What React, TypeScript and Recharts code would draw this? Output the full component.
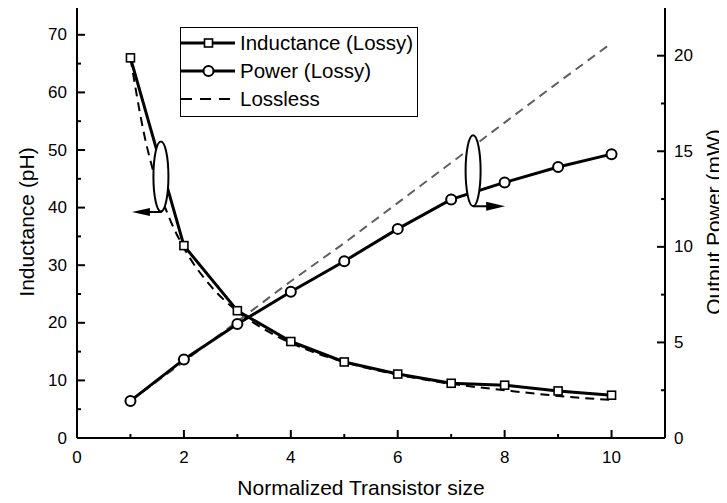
import { ComposedChart, Line, XAxis, YAxis, Legend, ReferenceDot } from 'recharts';

const FONT = '"Liberation Sans", Arial, Helvetica, sans-serif';

// values
const sizes = [1, 2, 3, 4, 5, 6, 7, 8, 9, 10];
const inductanceLossy = [66, 33.4, 22.1, 16.75, 13.2, 11.1, 9.5, 9.17, 8.17, 7.43];
const powerLossy = [1.94, 4.11, 5.96, 7.65, 9.25, 10.94, 12.48, 13.37, 14.18, 14.85];
const powerLossless = [1.94, 4.0, 6.1, 8.2, 10.2, 12.3, 14.4, 16.5, 18.6, 20.66];

const curveSizes = [1, 1.25, 1.5, 1.75, 2, 2.5, 3, 3.5, 4, 5, 6, 7, 8, 9, 10];
const inductanceLossless = [66, 53, 44, 37.7, 33, 26.4, 22, 18.9, 16.5, 13.2, 11, 9.4, 8.3, 7.3, 6.6];

const xTicks = [0, 1, 2, 3, 4, 5, 6, 7, 8, 9, 10];
const inductanceTicks = [0, 5, 10, 15, 20, 25, 30, 35, 40, 45, 50, 55, 60, 65, 70];
const powerTicks = [0, 2.5, 5, 7.5, 10, 12.5, 15, 17.5, 20];

const rows = curveSizes.map((x, i) => {
  const k = sizes.indexOf(x);
  return {
    x,
    indLossless: inductanceLossless[i],
    indLossy: k >= 0 ? inductanceLossy[k] : null,
    powLossy: k >= 0 ? powerLossy[k] : null,
    powLossless: k >= 0 ? powerLossless[k] : null,
  };
});

const tickText = { fontSize: 17, fontFamily: FONT, fill: '#000' };

function BottomTick({ x, y, payload }: any) {
  const major = payload.value % 2 === 0;
  return (
    <g>
      <line x1={x} x2={x} y1={y} y2={y - (major ? 8 : 4)} stroke="#000" strokeWidth={2} />
      {major ? (
        <text x={x} y={y + 25} textAnchor="middle" {...tickText}>
          {payload.value}
        </text>
      ) : null}
    </g>
  );
}

function LeftTick({ x, y, payload }: any) {
  const major = payload.value % 10 === 0;
  return (
    <g>
      <line x1={x} x2={x + (major ? 8 : 4)} y1={y} y2={y} stroke="#000" strokeWidth={2} />
      {major ? (
        <text x={x - 10} y={y} textAnchor="end" dominantBaseline="central" {...tickText}>
          {payload.value}
        </text>
      ) : null}
    </g>
  );
}

function RightTick({ x, y, payload }: any) {
  const major = payload.value % 5 === 0;
  return (
    <g>
      <line x1={x} x2={x - (major ? 8 : 4)} y1={y} y2={y} stroke="#000" strokeWidth={2} />
      {major ? (
        <text x={x + 9} y={y} textAnchor="start" dominantBaseline="central" {...tickText}>
          {payload.value}
        </text>
      ) : null}
    </g>
  );
}

const squareDot = (props: any) => {
  const { cx, cy, index, value } = props;
  if (value == null || cx == null || cy == null) return <g key={index} />;
  return <rect key={index} x={cx - 4} y={cy - 4} width={8} height={8} fill="#fff" stroke="#000" strokeWidth={1.6} />;
};

const circleDot = (props: any) => {
  const { cx, cy, index, value } = props;
  if (value == null || cx == null || cy == null) return <g key={index} />;
  return <circle key={index} cx={cx} cy={cy} r={5} fill="#fff" stroke="#000" strokeWidth={2} />;
};

const leftMarker = ({ cx, cy }: any) => (
  <g>
    <ellipse cx={cx} cy={cy} rx={7.5} ry={35} fill="#fff" stroke="#000" strokeWidth={2} />
    <line x1={cx + 1} y1={cy + 35.5} x2={cx - 13} y2={cy + 35.5} stroke="#000" strokeWidth={2} />
    <polygon points={`${cx - 29},${cy + 35.5} ${cx - 11},${cy + 31.5} ${cx - 11},${cy + 39.5}`} fill="#000" />
  </g>
);

const rightMarker = ({ cx, cy }: any) => (
  <g>
    <ellipse cx={cx} cy={cy} rx={7.5} ry={35.5} fill="#fff" stroke="#000" strokeWidth={2} />
    <line x1={cx} y1={cy + 35.5} x2={cx + 15} y2={cy + 35.5} stroke="#000" strokeWidth={2} />
    <polygon points={`${cx + 32},${cy + 35.5} ${cx + 13},${cy + 31} ${cx + 13},${cy + 40}`} fill="#000" />
  </g>
);

const legendItems = [
  { label: 'Inductance (Lossy)', kind: 'square' },
  { label: 'Power (Lossy)', kind: 'circle' },
  { label: 'Lossless', kind: 'dash' },
];

function LegendBox() {
  return (
    <div
      style={{
        width: 238,
        height: 90,
        border: '1px solid #000',
        boxSizing: 'border-box',
        background: '#fff',
        fontFamily: FONT,
        fontSize: 20.5,
        color: '#000',
        paddingTop: 1,
      }}
    >
      {legendItems.map((item) => (
        <div key={item.label} style={{ display: 'flex', alignItems: 'center', height: 28 }}>
          <svg width={59} height={28} style={{ flex: 'none' }}>
            {item.kind === 'dash' ? (
              <line x1={0} x2={54} y1={14} y2={14} stroke="#000" strokeWidth={2} strokeDasharray="11 8" />
            ) : (
              <line x1={0} x2={54} y1={14} y2={14} stroke="#000" strokeWidth={3} />
            )}
            {item.kind === 'square' ? <rect x={23.5} y={10} width={8} height={8} fill="#fff" stroke="#000" strokeWidth={1.6} /> : null}
            {item.kind === 'circle' ? <circle cx={27.5} cy={14} r={5} fill="#fff" stroke="#000" strokeWidth={2} /> : null}
          </svg>
          <span style={{ whiteSpace: 'nowrap' }}>{item.label}</span>
        </div>
      ))}
    </div>
  );
}

const titleStyle = { fontSize: 21, fontFamily: FONT, fill: '#000' };

export default function App() {
  return (
    <div style={{ width: 727, height: 503, margin: -8, background: '#fff' }}>
      <ComposedChart width={727} height={503} data={rows} margin={{ top: 6, right: 0, bottom: 0, left: 0 }}>
        <XAxis
          dataKey="x"
          type="number"
          domain={[0, 11]}
          ticks={xTicks}
          interval={0}
          height={65}
          tickSize={0}
          tickMargin={0}
          tickLine={false}
          tick={<BottomTick />}
          axisLine={{ stroke: '#000', strokeWidth: 2 }}
          label={() => (
            <text x={361} y={495} textAnchor="middle" {...titleStyle}>
              Normalized Transistor size
            </text>
          )}
        />
        <XAxis
          xAxisId="top"
          orientation="top"
          type="number"
          domain={[0, 11]}
          height={0}
          tick={false}
          tickLine={false}
          axisLine={{ stroke: '#000', strokeWidth: 2 }}
        />
        <YAxis
          yAxisId="left"
          type="number"
          domain={[0, 75]}
          ticks={inductanceTicks}
          interval={0}
          width={77}
          tickSize={0}
          tickMargin={0}
          tickLine={false}
          tick={<LeftTick />}
          axisLine={{ stroke: '#000', strokeWidth: 2 }}
          label={() => (
            <text x={26} y={222} transform="rotate(-90 26 222)" textAnchor="middle" dominantBaseline="central" {...titleStyle}>
              Inductance (pH)
            </text>
          )}
        />
        <YAxis
          yAxisId="right"
          orientation="right"
          type="number"
          domain={[0, 22.6]}
          ticks={powerTicks}
          interval={0}
          width={62}
          tickSize={0}
          tickMargin={0}
          tickLine={false}
          tick={<RightTick />}
          axisLine={{ stroke: '#000', strokeWidth: 2 }}
          label={() => (
            <text x={713} y={222} transform="rotate(-90 713 222)" textAnchor="middle" dominantBaseline="central" {...titleStyle}>
              Output Power (mW)
            </text>
          )}
        />
        <Legend
          layout="horizontal"
          verticalAlign="middle"
          align="center"
          content={<LegendBox />}
          wrapperStyle={{ left: 180, top: 27, width: 238, height: 90 }}
        />
        <Line
          yAxisId="left"
          dataKey="indLossless"
          type="monotone"
          stroke="#000"
          strokeWidth={2}
          strokeDasharray="9 6"
          dot={false}
          activeDot={false}
          connectNulls
          isAnimationActive={false}
        />
        <Line
          yAxisId="right"
          dataKey="powLossless"
          type="linear"
          stroke="#606060"
          strokeWidth={2}
          strokeDasharray="9 6"
          dot={false}
          activeDot={false}
          connectNulls
          isAnimationActive={false}
        />
        <Line
          yAxisId="left"
          dataKey="indLossy"
          type="linear"
          stroke="#000"
          strokeWidth={3}
          dot={squareDot}
          activeDot={false}
          connectNulls
          isAnimationActive={false}
        />
        <Line
          yAxisId="right"
          dataKey="powLossy"
          type="linear"
          stroke="#000"
          strokeWidth={3}
          dot={circleDot}
          activeDot={false}
          connectNulls
          isAnimationActive={false}
        />
        <ReferenceDot yAxisId="left" x={1.57} y={45.4} r={0} shape={leftMarker} />
        <ReferenceDot yAxisId="right" x={7.41} y={13.98} r={0} shape={rightMarker} />
      </ComposedChart>
    </div>
  );
}
